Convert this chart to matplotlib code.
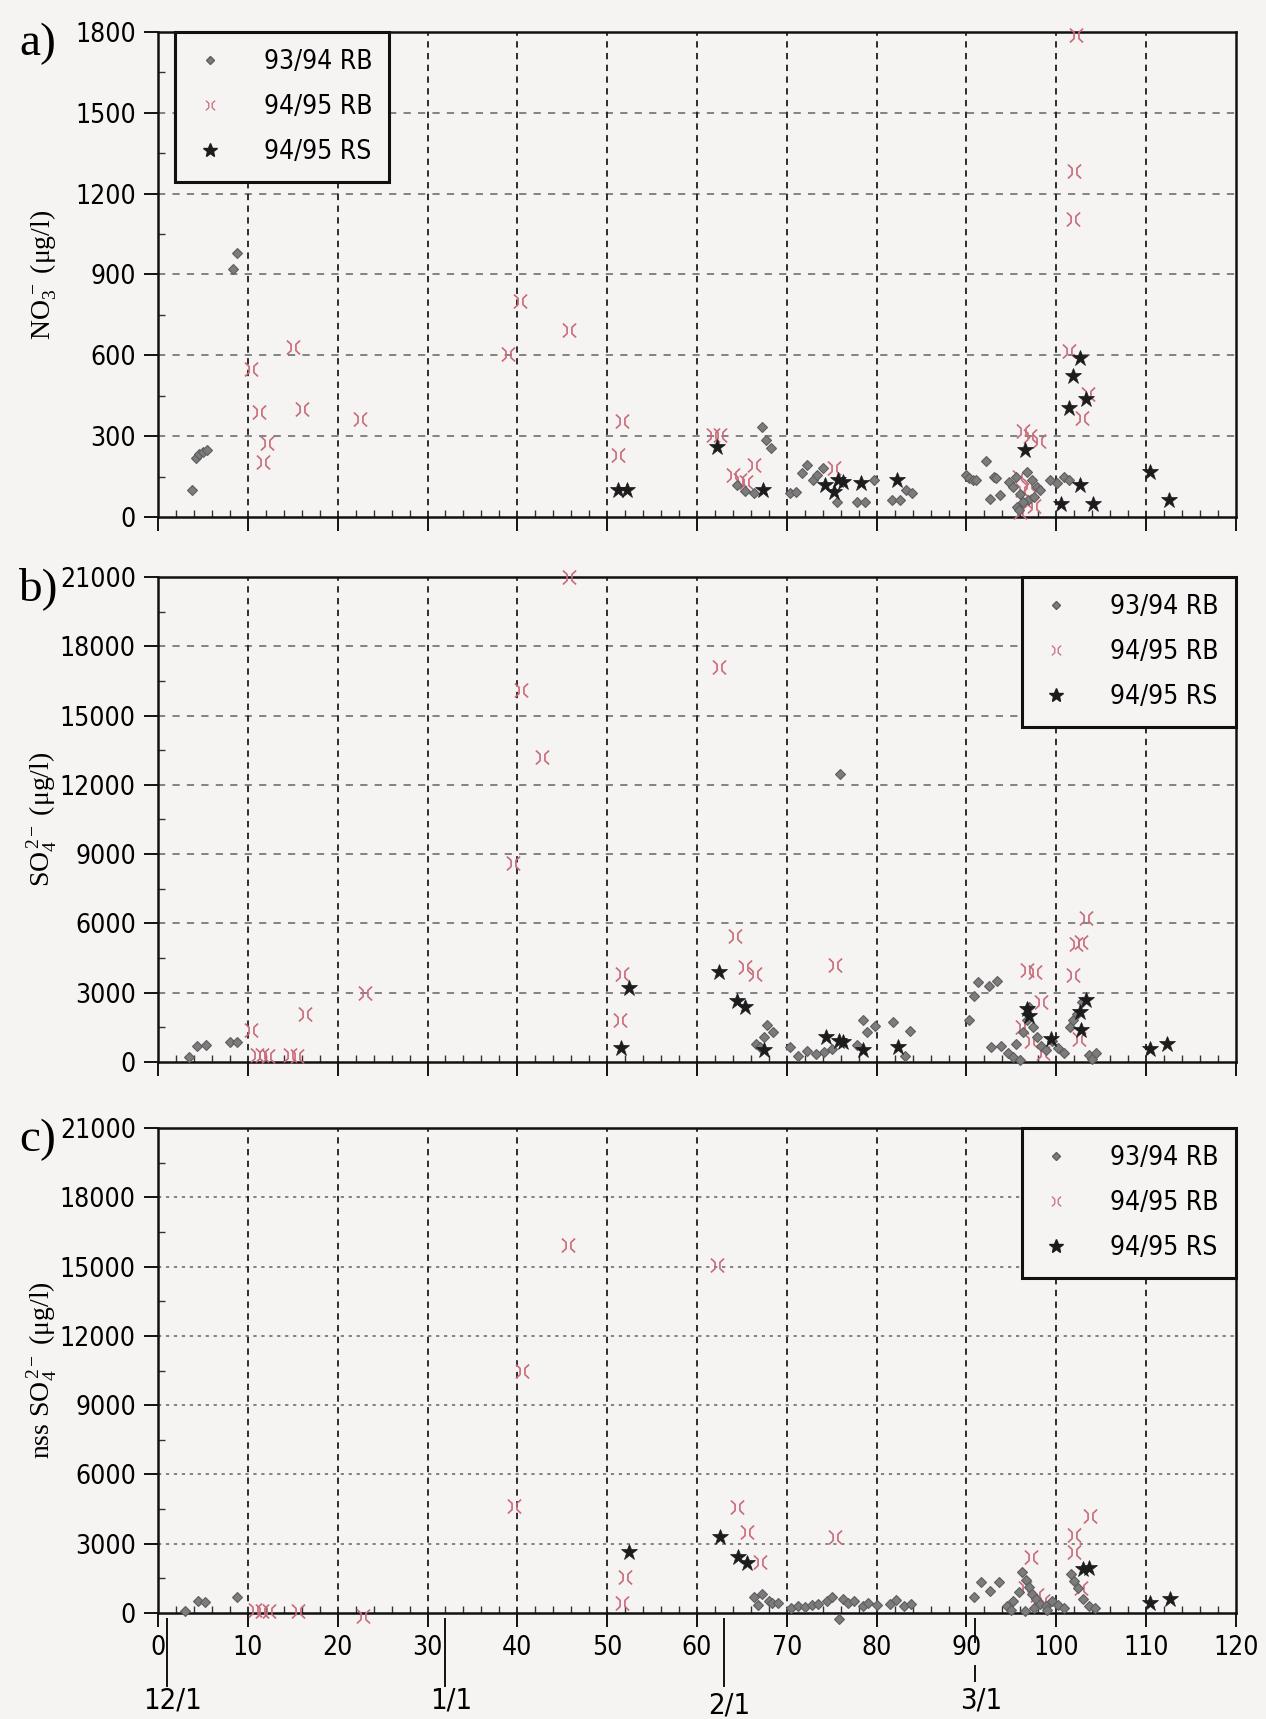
import matplotlib
matplotlib.use("Agg")
import matplotlib.pyplot as plt
from matplotlib.path import Path
from matplotlib.lines import Line2D
from matplotlib.ticker import MultipleLocator

# ---------------- data ----------------
labels = ["93/94 RB", "94/95 RB", "94/95 RS"]
xticks = [0, 10, 20, 30, 40, 50, 60, 70, 80, 90, 100, 110, 120]
date_labels = ["12/1", "1/1", "2/1", "3/1"]
date_days = [1, 32, 63, 91]

# panel a: NO3-
a_d_x = [3.8, 4.2, 4.6, 5.0, 5.5, 8.3, 8.8, 64.5, 65.3, 66.4, 67.2, 67.7, 68.2,
         70.3, 71.0, 71.7, 72.2, 72.9, 73.4, 74.0, 75.6, 77.8, 78.7, 79.7, 81.7, 82.6, 83.3, 83.9,
         90.0, 90.3, 90.7, 91.1, 92.2, 93.1, 93.3, 92.6, 93.7,
         94.7, 95.5, 96.7, 97.3, 97.9, 96.0, 95.6, 96.8, 97.5, 98.2, 99.3, 100.1, 100.9, 101.4,
         95.8, 96.3, 95.2]
a_d_y = [100, 220, 232, 240, 250, 920, 980, 120, 95, 90, 333, 285, 255,
         89, 93, 163, 193, 137, 155, 181, 56, 56, 56, 137, 63, 63, 100, 89,
         155, 144, 137, 137, 207, 148, 144, 68, 81,
         130, 148, 168, 137, 111, 87, 37, 63, 74, 100, 137, 126, 148, 137,
         26, 55, 111]
a_p_x = [10.3, 11.2, 11.7, 12.1, 15.0, 16.0, 22.5, 39.0, 40.3, 45.7, 51.2, 51.6, 61.8, 62.6,
         64.0, 64.8, 65.5, 66.4, 75.3, 96.3, 97.1, 98.1, 101.4, 101.8, 102.0, 102.2, 102.9, 103.5,
         95.8, 96.2, 96.5, 97.0, 97.5, 96.0]
a_p_y = [550, 390, 205, 275, 630, 400, 365, 605, 800, 695, 230, 355, 304, 304,
         155, 137, 130, 193, 181, 318, 300, 281, 615, 1105, 1285, 1790, 368, 455,
         150, 100, 60, 120, 40, 20]
a_s_x = [51.2, 52.2, 62.2, 67.3, 74.2, 75.3, 75.7, 76.2, 78.3, 82.3, 96.5, 100.5, 101.4,
         101.9, 102.6, 102.6, 103.3, 104.1, 110.4, 112.5]
a_s_y = [100, 100, 260, 100, 119, 93, 137, 130, 126, 137, 250, 49, 405,
         525, 590, 118, 437, 49, 168, 62]

# panel b: SO4 2-
b_d_x = [3.5, 4.3, 5.3, 8.0, 8.8, 67.8, 68.5, 67.5, 66.6, 67.0, 70.3, 71.2, 72.3, 73.2, 74.1,
         75.0, 75.9, 78.5, 78.9, 79.8, 81.8, 83.7, 77.8, 83.2, 90.3, 90.8, 91.3, 92.5, 93.4,
         92.7, 93.8, 94.6, 95.5, 96.3, 96.7, 97.0, 97.4, 97.8, 98.3, 98.8, 99.5, 100.2, 100.8,
         101.5, 101.8, 102.3, 102.9, 103.6, 104.0, 95.2, 96.0, 104.4]
b_d_y = [200, 700, 720, 850, 850, 1609, 1290, 1101, 783, 638, 638, 275, 493, 348, 420,
         565, 12450, 1826, 1290, 1550, 1725, 1333, 739, 275, 1826, 2870, 3450, 3300, 3490,
         650, 700, 400, 800, 1300, 1800, 2377, 1500, 1100, 700, 500, 900, 600, 400,
         1500, 1797, 2100, 2600, 300, 150, 200, 100, 400]
b_p_x = [10.4, 11.0, 11.6, 12.3, 14.7, 15.5, 16.4, 23.0, 39.5, 40.4, 42.8, 45.8, 51.4, 51.6,
         62.5, 64.2, 65.3, 66.5, 75.4, 96.7, 97.6, 98.3, 101.8, 102.2, 102.7, 103.3,
         96.2, 97.2, 98.5, 102.5]
b_p_y = [1370, 300, 300, 280, 300, 280, 2080, 3000, 8600, 16100, 13200, 21000, 1800, 3800,
         17100, 5450, 4100, 3800, 4200, 3971, 3900, 2594, 3783, 5130, 5200, 6217,
         1500, 900, 400, 1000]
b_s_x = [51.5, 52.4, 62.4, 64.4, 65.3, 67.5, 74.4, 75.8, 76.3, 78.5, 82.4, 96.7, 97.0,
         99.4, 102.6, 103.3, 102.7, 110.4, 112.3]
b_s_y = [600, 3200, 3900, 2650, 2400, 536, 1072, 928, 855, 536, 652, 2300, 2000,
         1000, 2159, 2667, 1400, 550, 800]

# panel c: nss SO4 2-
c_d_x = [3.0, 4.4, 5.2, 8.8, 66.4, 67.2, 68.0, 68.4, 66.8, 69.0,
         70.5, 71.2, 72.0, 72.8, 73.5, 74.5, 75.0, 75.8, 76.2, 76.8, 77.5, 78.5, 79.0, 80.0,
         81.5, 82.2, 83.0, 83.8, 90.8, 91.6, 92.6, 93.6,
         94.5, 95.2, 95.8, 96.2, 96.6, 97.0, 97.3, 97.7, 98.2, 98.8, 99.5, 100.2, 100.8,
         101.6, 102.0, 102.4, 103.0, 103.6, 104.3, 95.0, 96.5, 97.5, 99.0]
c_d_y = [100, 536, 464, 681, 681, 826, 536, 420, 350, 450,
         200, 300, 250, 350, 400, 500, 700, -250, 600, 450, 500, 300, 450, 350,
         400, 550, 300, 400, 681, 1333, 971, 1333,
         300, 500, 900, 1768, 1420, 1130, 840, 600, 400, 300, 500, 350, 200,
         1700, 1400, 1100, 600, 300, 200, 150, 100, 200, 150]
c_p_x = [10.8, 11.6, 12.4, 15.6, 22.8, 39.6, 40.5, 45.6, 51.6, 52.0, 62.2, 64.4, 65.6, 67.0,
         75.4, 97.2, 102.0, 102.0, 103.8, 102.8, 96.5, 97.8, 98.5]
c_p_y = [150, 100, 100, 100, -150, 4650, 10500, 15950, 450, 1550, 15050, 4600, 3500, 2200,
         3300, 2420, 3362, 2638, 4188, 1073, 1100, 800, 500]
c_s_x = [52.4, 62.6, 64.6, 65.6, 103.0, 103.6, 110.4, 112.6]
c_s_y = [2650, 3300, 2420, 2159, 1913, 1950, 420, 609]

# ---------------- style ----------------
plt.rcParams["font.family"] = ["DejaVu Sans"]
plt.rcParams["font.stretch"] = "condensed"
plt.rcParams["mathtext.fontset"] = "custom"
plt.rcParams["mathtext.rm"] = "Liberation Serif"
plt.rcParams["mathtext.it"] = "Liberation Serif:italic"
SERIF = ["Liberation Serif", "DejaVu Serif"]
TICK_FS = 19
LEG_FS = 19

BG = "#f6f3f3"
DIAM_C = "#7c7c7c"
DIAM_E = "#5e5e5e"
PINK = "#c96a7a"
STAR_C = "#1c1c1c"

# custom ")(" marker for 94/95 RB
pv = [(-0.95, 1.0), (-0.35, 0.45), (-0.35, -0.45), (-0.95, -1.0),
      (0.95, 1.0), (0.35, 0.45), (0.35, -0.45), (0.95, -1.0)]
pc = [Path.MOVETO, Path.LINETO, Path.LINETO, Path.LINETO,
      Path.MOVETO, Path.LINETO, Path.LINETO, Path.LINETO]
PINK_MARKER = Path(pv, pc)

fig = plt.figure(figsize=(12.66, 17.19), dpi=100, facecolor=BG)

L = 158 / 1266
W = (1236 - 158) / 1266
H = 485 / 1719
panels = [
    dict(bottom=1 - 517 / 1719, ymax=1800, ystep=300, yminor=150,
         d=(a_d_x, a_d_y), p=(a_p_x, a_p_y), s=(a_s_x, a_s_y),
         ylabel=r"NO$_3^{\,-}$ (μg/l)", letter="a)", legend_loc="upper left",
         legend_anchor=(0.016, 1.0), hdash=(4, 4)),
    dict(bottom=1 - 1062 / 1719, ymax=21000, ystep=3000, yminor=1500,
         d=(b_d_x, b_d_y), p=(b_p_x, b_p_y), s=(b_s_x, b_s_y),
         ylabel=r"SO$_4^{\,2-}$ (μg/l)", letter="b)", legend_loc="upper right",
         legend_anchor=(1.0, 1.0), hdash=(4, 4)),
    dict(bottom=1 - 1613 / 1719, ymax=21000, ystep=3000, yminor=1500,
         d=(c_d_x, c_d_y), p=(c_p_x, c_p_y), s=(c_s_x, c_s_y),
         ylabel=r"nss SO$_4^{\,2-}$ (μg/l)", letter="c)", legend_loc="upper right",
         legend_anchor=(1.0, 1.0), hdash=(1.8, 2.6)),
]

for i, P in enumerate(panels):
    ax = fig.add_axes([L, P["bottom"], W, H], facecolor=BG)
    ax.set_xlim(0, 120)
    ax.set_ylim(0, P["ymax"])
    ax.set_xticks(xticks)
    ax.xaxis.set_minor_locator(MultipleLocator(2))
    ax.yaxis.set_major_locator(MultipleLocator(P["ystep"]))
    ax.yaxis.set_minor_locator(MultipleLocator(P["yminor"]))
    ax.tick_params(which="major", direction="out", length=10, width=1.4,
                   labelsize=TICK_FS, pad=6, color="#111111")
    ax.tick_params(which="minor", direction="in", length=5, width=1.0, color="#333333")
    if i < 2:
        ax.tick_params(axis="x", labelbottom=False)
    for sp in ax.spines.values():
        sp.set_linewidth(1.8)
        sp.set_color("#111111")

    # grid
    for yv in range(P["ystep"], P["ymax"], P["ystep"]):
        ax.axhline(yv, color="#7a7a7a", lw=1.3, dashes=P["hdash"], zorder=1)
    for xv in xticks[1:-1]:
        ax.axvline(xv, color="#1e1e1e", lw=1.3, dashes=(3.5, 3.0), zorder=1)

    ax.plot(P["p"][0], P["p"][1], linestyle="none", marker=PINK_MARKER, ms=10,
            mfc="none", mec=PINK, mew=1.2, zorder=3, clip_on=False)
    ax.plot(P["d"][0], P["d"][1], linestyle="none", marker="D", ms=5.5,
            mfc=DIAM_C, mec=DIAM_E, mew=0.8, zorder=4, clip_on=False)
    ax.plot(P["s"][0], P["s"][1], linestyle="none", marker="*", ms=12,
            mfc=STAR_C, mec=STAR_C, mew=0.5, zorder=5, clip_on=False)

    handles = [
        Line2D([], [], linestyle="none", marker="D", ms=4, mfc=DIAM_C, mec=DIAM_E),
        Line2D([], [], linestyle="none", marker=PINK_MARKER, ms=7, mfc="none", mec=PINK, mew=0.9),
        Line2D([], [], linestyle="none", marker="*", ms=10, mfc=STAR_C, mec=STAR_C),
    ]
    leg = ax.legend(handles, labels, loc=P["legend_loc"], bbox_to_anchor=P["legend_anchor"],
                    borderaxespad=0, frameon=True, fancybox=False, framealpha=1,
                    facecolor=BG, edgecolor="#111111", fontsize=LEG_FS,
                    handlelength=1.3, handletextpad=1.4, labelspacing=0.72,
                    borderpad=0.65)
    leg.get_frame().set_linewidth(2.2)
    leg.set_zorder(10)

    ax.set_ylabel(P["ylabel"], family=SERIF, fontsize=20)
    ax.yaxis.set_label_coords(-0.092, 0.5)

    top_px = 1719 * (1 - (P["bottom"] + H))
    fig.text(38 / 1266, 1 - (top_px + 12) / 1719, P["letter"], family=SERIF,
             fontsize=34, ha="center", va="center")

    if i == 2:
        for lab, d in zip(date_labels, date_days):
            if lab == "3/1":
                ax.plot([d, d], [-0.012, -0.06], color="#111111", lw=1.4,
                        transform=ax.get_xaxis_transform(), clip_on=False)
                ax.plot([d, d], [-0.11, -0.14], color="#111111", lw=1.4,
                        transform=ax.get_xaxis_transform(), clip_on=False)
            else:
                ax.plot([d, d], [-0.012, -0.15], color="#111111", lw=1.4,
                        transform=ax.get_xaxis_transform(), clip_on=False)
            yoff = -0.19 if lab == "2/1" else -0.18
            ax.text(d + 0.6, yoff, lab, transform=ax.get_xaxis_transform(),
                    ha="center", va="center", fontsize=21)

fig.savefig("out.png", dpi=100, facecolor=BG)
